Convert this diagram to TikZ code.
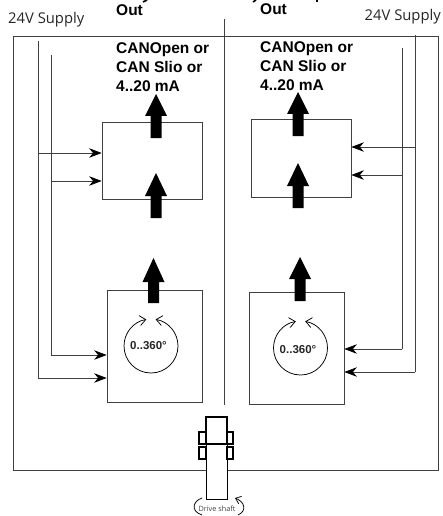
\documentclass[tikz,border=0pt]{standalone}
\usepackage{fontspec}
\setmainfont{Liberation Sans}
\newfontfamily\supplyfont{Open Sans}
\usetikzlibrary{arrows.meta}
\tikzset{
  wire/.style={draw=black!75,line width=0.75pt},
  feed/.style={wire,-{Stealth[length=12.5pt,width=9.5pt,inset=4pt,black]}},
  boxy/.style={draw=black!75,line width=0.75pt},
  bigarrow/.style={draw=none,fill=black},
  lbl/.style={font=\bfseries\fontsize{15.5}{19}\selectfont,align=left,anchor=north west,inner sep=0pt},
  supply/.style={font=\supplyfont\fontsize{14.8}{17}\selectfont,inner sep=0pt,text=black!85},
  deg/.style={font=\bfseries\fontsize{11.5}{13}\selectfont,inner sep=0pt,text=black!85},
  ring/.style={draw=black,line width=0.75pt,-{Straight Barb[length=6pt,width=10pt]}},
  coupling/.style={draw=black,line width=1.8pt,fill=white},
  shaft/.style={draw=black,line width=0.9pt,fill=white},
  twist/.style={draw=black,line width=0.75pt},
  cutoff/.style={draw=black,line width=1.6pt}
}
\newcommand{\bigup}[4]{\fill[bigarrow] (#1-5.5,-#4) -- (#1-5.5,-#3) -- (#1-11,-#3) -- (#1,-#2) -- (#1+11,-#3) -- (#1+5.5,-#3) -- (#1+5.5,-#4) -- cycle;}
\begin{document}
\begin{tikzpicture}[x=1pt,y=1pt]
\useasboundingbox (0,0) rectangle (443,-516);
\begin{scope}
\clip (0,0) rectangle (443,-516);
% frame
\draw[boxy] (13,-470) -- (13,-36) -- (438,-36) -- (438,-470) -- cycle;
\draw[wire] (224,-19) -- (224,-405);
% boxes
\node[boxy,minimum width=100pt,minimum height=77pt,inner sep=0pt] (l1) at (152,-160.5) {};
\node[boxy,minimum width=95pt,minimum height=112pt,inner sep=0pt] (l2) at (154.5,-346) {};
\node[boxy,minimum width=100pt,minimum height=78pt,inner sep=0pt] (r1) at (301,-158) {};
\node[boxy,minimum width=95pt,minimum height=112pt,inner sep=0pt] (r2) at (296.5,-348) {};
% wires
\coordinate (la) at (38,-41); \coordinate (lb) at (51,-55);
\coordinate (ra) at (415,-35); \coordinate (rb) at (402,-48);
\draw[wire] (la) -- (38,-378);
\draw[wire] (lb) -- (51,-355);
\draw[wire] (ra) -- (415,-372);
\draw[wire] (rb) -- (402,-349);
\draw[feed] (38,-153) -- (l1.west |- 0,-153);
\draw[feed] (51,-181) -- (l1.west |- 0,-181);
\draw[feed] (51,-355) -- (l2.west |- 0,-355);
\draw[feed] (38,-378) -- (l2.west |- 0,-378);
\draw[feed] (415,-147) -- (r1.east |- 0,-147);
\draw[feed] (402,-175) -- (r1.east |- 0,-175);
\draw[feed] (402,-349) -- (r2.east |- 0,-349);
\draw[feed] (415,-372) -- (r2.east |- 0,-372);
% big arrows
\bigup{156}{94}{116}{138}
\bigup{156}{173}{196}{218}
\bigup{153.5}{258}{282}{303}
\bigup{298}{92}{114}{136}
\bigup{298}{163}{186}{208}
\bigup{300}{257}{279}{301}
% rotation marks
\draw[ring] (151,-373) arc (270:100:27);
\draw[ring] (151,-373) arc (-90:80:27);
\node[deg] (dl) at (148.5,-346) {0..360°};
\draw[ring] (300.5,-375) arc (270:100:27);
\draw[ring] (300.5,-375) arc (-90:80:27);
\node[deg] (dr) at (298,-350) {0..360°};
% texts
\node[lbl] (t1) at (116,-42) {CANOpen or\\CAN Slio or\\4..20 mA};
\node[lbl] (t2) at (260,-41) {CANOpen or\\CAN Slio or\\4..20 mA};
\node[lbl,anchor=base west] (o1) at (116,-16) {Out};
\node[lbl,anchor=base west] (o2) at (260,-15) {Out};
\node[supply,anchor=base west] (s1) at (8,-24) {24V Supply};
\node[supply,anchor=base east] (s2) at (441,-21) {24V Supply};
% cut-off strokes along the top edge
\draw[cutoff] (143,-2) -- (147,0);
\draw[cutoff] (253,-2) -- (256,0);
\draw[cutoff] (317,-2) -- (317,0);
% shaft
\draw[shaft] (206,-499) rectangle (227,-444);
\draw[coupling] (199,-432) rectangle (206,-444);
\draw[coupling] (227,-432) rectangle (233,-444);
\draw[coupling] (199,-447) rectangle (206,-459);
\draw[coupling] (227,-447) rectangle (233,-459);
\draw[coupling] (206,-417) rectangle (227,-444);
\node[font=\supplyfont\fontsize{7.3}{9}\selectfont,text=black!75,inner sep=0pt] (ds) at (217,-509) {Drive shaft};
\draw[twist] (202,-498) .. controls (193,-501) and (190,-511) .. (202,-515);
\draw[twist,-{Straight Barb[length=5pt,width=8pt]}] (238,-515) .. controls (247,-511) and (245,-502) .. (235,-498);
\end{scope}
\end{tikzpicture}
\end{document}
